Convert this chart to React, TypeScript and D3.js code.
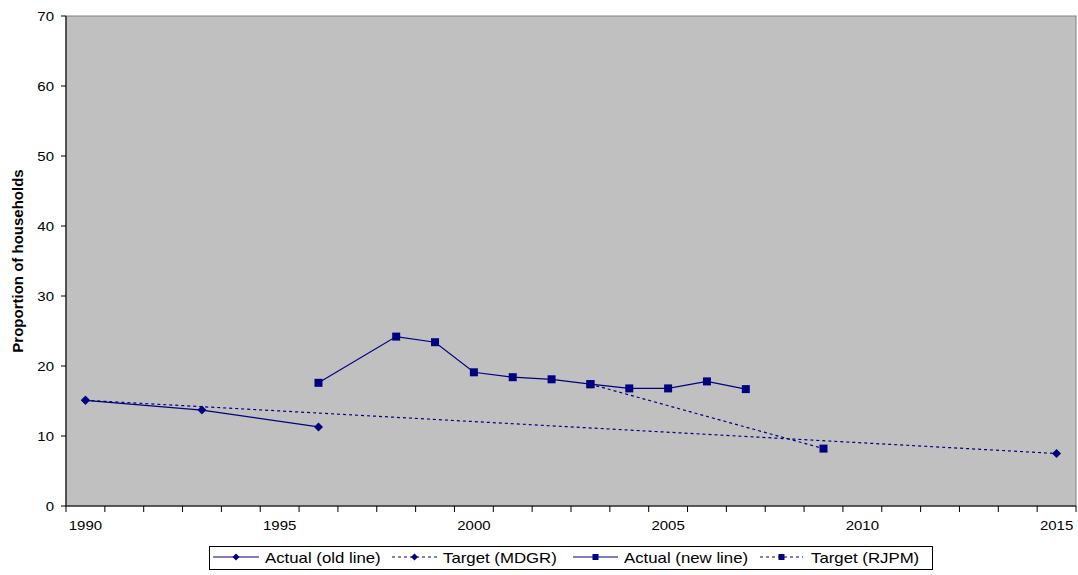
import React from "react";
import * as d3 from "d3";

// years on the category axis
const years = d3.range(1990, 2016).map(String);
const yTicks = [0, 10, 20, 30, 40, 50, 60, 70];
const xLabelYears = ["1990", "1995", "2000", "2005", "2010", "2015"];

const actualOldYears = ["1990", "1993", "1996"];
const actualOldValues = [15.1, 13.7, 11.3];

const targetMdgrYears = ["1990", "2015"];
const targetMdgrValues = [15.1, 7.5];

const actualNewYears = ["1996", "1998", "1999", "2000", "2001", "2002", "2003", "2004", "2005", "2006", "2007"];
const actualNewValues = [17.6, 24.2, 23.4, 19.1, 18.4, 18.1, 17.4, 16.8, 16.8, 17.8, 16.7];

const targetRjpmYears = ["2003", "2009"];
const targetRjpmValues = [17.4, 8.2];

const seriesNames = ["Actual (old line)", "Target (MDGR)", "Actual (new line)", "Target (RJPM)"];

const W = 1078;
const H = 575;
const plot = { left: 66, right: 1076, top: 16, bottom: 506 };
const navy = "#000080";
const font = "'Liberation Sans', Arial, sans-serif";
const stretch = 1.2; // source text looks widened horizontally

type Pt = { year: string; value: number };
const zip = (ys: string[], vs: number[]): Pt[] => ys.map((y, i) => ({ year: y, value: vs[i] }));

const series = [
  { name: seriesNames[0], data: zip(actualOldYears, actualOldValues), dashed: false, marker: "diamond" },
  { name: seriesNames[1], data: zip(targetMdgrYears, targetMdgrValues), dashed: true, marker: "diamond" },
  { name: seriesNames[2], data: zip(actualNewYears, actualNewValues), dashed: false, marker: "square" },
  { name: seriesNames[3], data: zip(targetRjpmYears, targetRjpmValues), dashed: true, marker: "square" },
];

// legend layout (sample line start, text start)
const legendItems = [
  { x0: 213, x1: 259, tx: 265 },
  { x0: 392, x1: 437, tx: 443 },
  { x0: 573, x1: 618, tx: 624 },
  { x0: 760, x1: 803, tx: 811 },
];

const Marker: React.FC<{ kind: string; x: number; y: number; r: number }> = ({ kind, x, y, r }) =>
  kind === "diamond" ? (
    <path d={`M${x},${y - r}L${x + r},${y}L${x},${y + r}L${x - r},${y}Z`} fill={navy} />
  ) : (
    <rect x={x - r} y={y - r} width={r * 2} height={r * 2} fill={navy} />
  );

export default function App() {
  const x = d3.scaleBand<string>().domain(years).range([plot.left, plot.right]).padding(0);
  const y = d3.scaleLinear().domain([0, 70]).range([plot.bottom, plot.top]);
  const cx = (yr: string) => (x(yr) || 0) + x.bandwidth() / 2;
  const line = d3
    .line<Pt>()
    .x((d) => cx(d.year))
    .y((d) => y(d.value));

  return (
    <svg width={W} height={H} style={{ position: "absolute", left: 0, top: 0 }} fontFamily={font}>
      <rect width={W} height={H} fill="#fff" />
      <rect
        x={plot.left}
        y={plot.top}
        width={plot.right - plot.left}
        height={plot.bottom - plot.top}
        fill="#C0C0C0"
        stroke="#808080"
        strokeWidth={1}
      />

      {/* y axis */}
      <line x1={plot.left} x2={plot.left} y1={plot.top} y2={plot.bottom} stroke="#333" strokeWidth={1.5} />
      {yTicks.map((t) => (
        <g key={t}>
          <line x1={plot.left - 5} x2={plot.left} y1={y(t)} y2={y(t)} stroke="#000" />
          <text
            transform={`translate(${54},${y(t) + 4.5}) scale(${stretch},1)`}
            textAnchor="end"
            fontSize={12.5}
            fill="#000"
          >
            {t}
          </text>
        </g>
      ))}
      <text
        transform={`translate(23,${(plot.top + plot.bottom) / 2}) rotate(-90)`}
        textAnchor="middle"
        fontSize={15}
        fontWeight="bold"
      >
        Proportion of households
      </text>

      {/* x axis */}
      <line x1={plot.left} x2={plot.right} y1={plot.bottom} y2={plot.bottom} stroke="#000" />
      {years.concat(["end"]).map((yr, i) => {
        const xx = plot.left + i * x.bandwidth();
        return <line key={yr} x1={xx} x2={xx} y1={plot.bottom} y2={plot.bottom + 6} stroke="#000" />;
      })}
      {xLabelYears.map((yr) => (
        <text
          key={yr}
          transform={`translate(${cx(yr)},530) scale(${stretch},1)`}
          textAnchor="middle"
          fontSize={12.5}
        >
          {yr}
        </text>
      ))}

      {/* series */}
      {series.map((s) => (
        <g key={s.name}>
          <path
            d={line(s.data) || ""}
            fill="none"
            stroke={navy}
            strokeWidth={1.2}
            strokeDasharray={s.dashed ? "3 3" : undefined}
          />
          {s.data.map((d) => (
            <Marker key={d.year} kind={s.marker} x={cx(d.year)} y={y(d.value)} r={s.marker === "diamond" ? 4.5 : 4} />
          ))}
        </g>
      ))}

      {/* legend */}
      <rect x={209.5} y={546.5} width={723} height={23} fill="#fff" stroke="#000" />
      {series.map((s, i) => {
        const it = legendItems[i];
        const ly = 557;
        return (
          <g key={s.name}>
            <line
              x1={it.x0}
              x2={it.x1}
              y1={ly}
              y2={ly}
              stroke={navy}
              strokeWidth={1.2}
              strokeDasharray={s.dashed ? "3 3" : undefined}
            />
            <Marker kind={s.marker} x={(it.x0 + it.x1) / 2} y={ly} r={s.marker === "diamond" ? 3.5 : 3} />
            <text transform={`translate(${it.tx},563) scale(${stretch},1)`} fontSize={14}>
              {s.name}
            </text>
          </g>
        );
      })}
    </svg>
  );
}
